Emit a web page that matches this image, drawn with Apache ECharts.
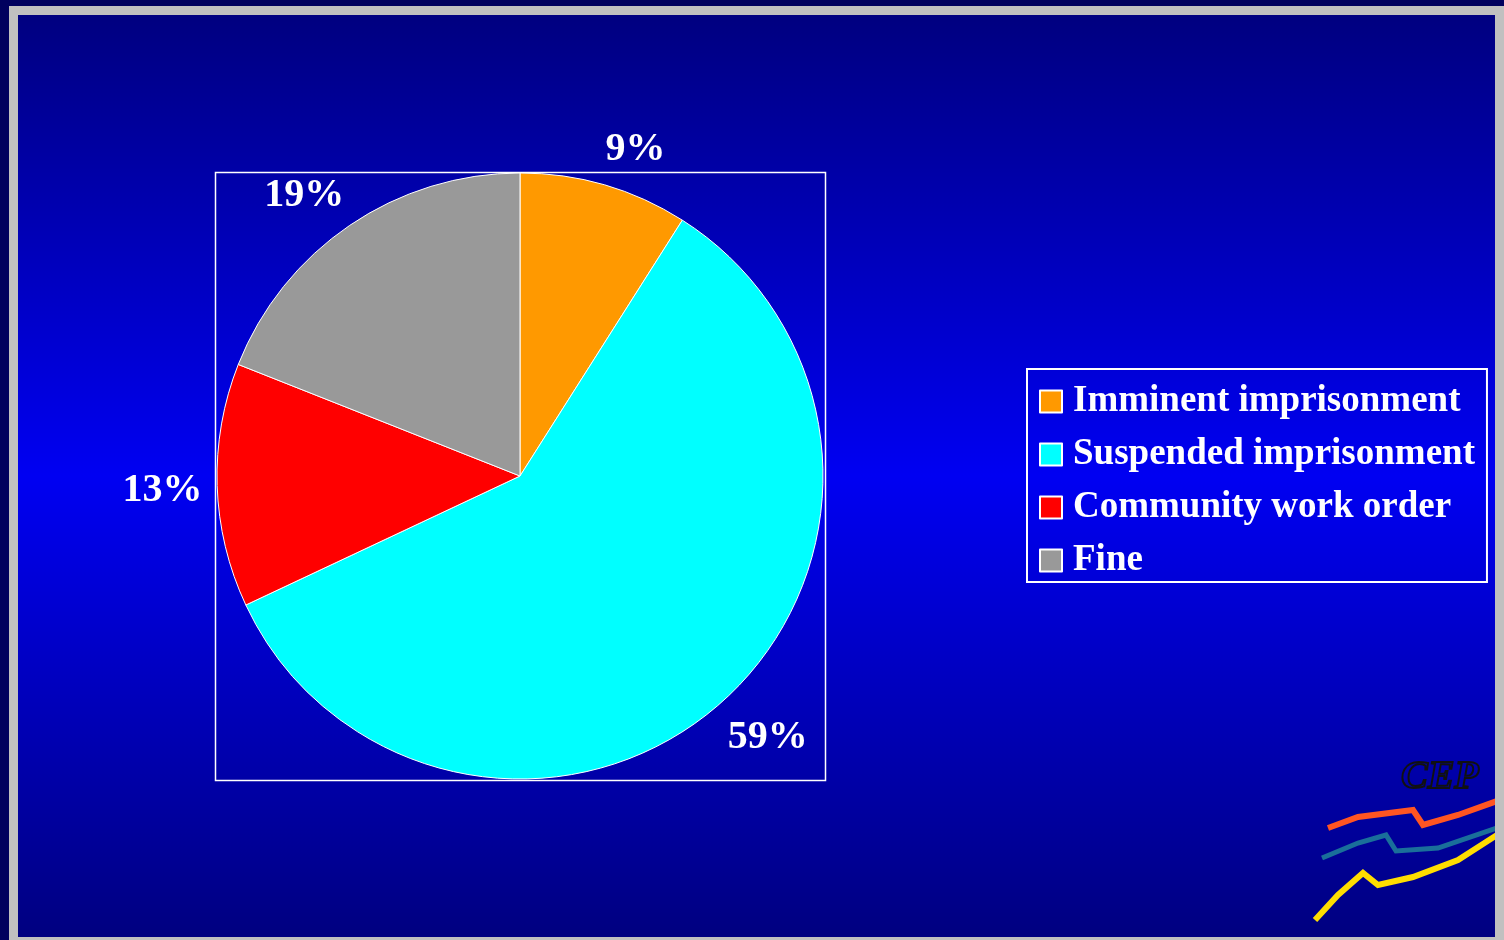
<!DOCTYPE html>
<html>
<head>
<meta charset="utf-8">
<script src="https://cdn.jsdelivr.net/npm/echarts@6/dist/echarts.min.js"></script>
<style>
  html, body { margin: 0; padding: 0; background: #00005e; }
  .frame { position: absolute; left: 9px; top: 6px; width: 1495px; height: 934px; background: #c0c0c0; }
  .com-chart { position: absolute; left: 9px; top: 9px; width: 1477px; height: 922px; }
</style>
</head>
<body>
<div class="frame">
  <div class="com-chart" id="main"></div>
</div>
<script>
// sentence categories and shares (%)
const categories = ['Imminent imprisonment', 'Suspended imprisonment', 'Community work order', 'Fine'];
const shares = [9, 59, 13, 19];
const colors = ['#ff9900', '#00ffff', '#ff0000', '#999999'];

const pieCenter = [502, 461];
const pieRadius = 303;
const labelDist = 324;

// mid angle (clockwise from 12 o'clock) of each slice, for label placement
const total = shares.reduce((a, b) => a + b, 0);
const midAngles = [];
let acc = 0;
shares.forEach((v) => {
  midAngles.push(((acc + v / 2) / total) * Math.PI * 2);
  acc += v;
});

const serif = '"Liberation Serif", "DejaVu Serif", serif';

const chartInstance = echarts.init(document.getElementById('main'));

const options = {
  animation: false,
  backgroundColor: new echarts.graphic.LinearGradient(0, 0, 0, 1, [
    { offset: 0, color: '#000080' },
    { offset: 0.5, color: '#0000f2' },
    { offset: 1, color: '#000080' },
  ]),
  color: colors,
  legend: {
    orient: 'vertical',
    left: 1009,
    top: 354,
    width: 470,
    padding: [14, 12, 3, 12],
    itemWidth: 22,
    itemHeight: 22,
    itemGap: 16,
    icon: 'rect',
    borderColor: '#ffffff',
    borderWidth: 2,
    data: categories,
    textStyle: {
      color: '#ffffff',
      fontFamily: serif,
      fontWeight: 'bold',
      fontSize: 37,
      padding: [0, 0, 0, 6],
      lineHeight: 36,
    },
  },
  graphic: [
    {
      type: 'rect',
      shape: { x: 197.5, y: 157.5, width: 610, height: 608 },
      style: { fill: null, stroke: '#ffffff', lineWidth: 1.5 },
      z: 0,
    },
    {
      type: 'polyline',
      shape: { points: [[1310, 813], [1340, 802], [1395, 795], [1405, 810], [1440, 800], [1482, 785]] },
      style: { fill: null, stroke: '#ff5522', lineWidth: 6 },
    },
    {
      type: 'polyline',
      shape: { points: [[1304, 843], [1340, 828], [1368, 820], [1378, 836], [1420, 833], [1482, 812]] },
      style: { fill: null, stroke: '#1a6f9a', lineWidth: 5 },
    },
    {
      type: 'polyline',
      shape: { points: [[1297, 905], [1320, 880], [1345, 858], [1360, 870], [1395, 862], [1440, 845], [1482, 818]] },
      style: { fill: null, stroke: '#ffdd00', lineWidth: 6 },
    },
    {
      type: 'text',
      x: 1383,
      y: 743,
      style: {
        text: 'CEP',
        fill: 'none',
        stroke: '#111111',
        lineWidth: 2,
        font: 'italic bold 40px "Liberation Serif", serif',
      },
    },
  ],
  series: [
    {
      type: 'pie',
      center: pieCenter,
      radius: pieRadius,
      startAngle: 90,
      clockwise: true,
      avoidLabelOverlap: false,
      data: categories.map((name, i) => ({ name, value: shares[i] })),
      itemStyle: { borderColor: '#ffffff', borderWidth: 1 },
      label: {
        show: true,
        position: 'outside',
        formatter: (p) => p.value + '%',
        color: '#ffffff',
        fontFamily: serif,
        fontWeight: 'bold',
        fontSize: 40,
      },
      labelLine: { show: false, length: 20, length2: 0 },
      // label box sits just outside the slice, pushed out by about half its size
      labelLayout: (params) => {
        const a = midAngles[params.dataIndex];
        const s = Math.sin(a);
        const c = Math.cos(a);
        const w = params.labelRect.width;
        const h = params.labelRect.height;
        return {
          x: pieCenter[0] + labelDist * s + Math.sign(s) * w * 0.42,
          y: pieCenter[1] - labelDist * c - c * h / 2 + 4,
          align: 'center',
          verticalAlign: 'middle',
        };
      },
      emphasis: { disabled: true },
    },
  ],
};

chartInstance.setOption(options);
</script>
</body>
</html>
